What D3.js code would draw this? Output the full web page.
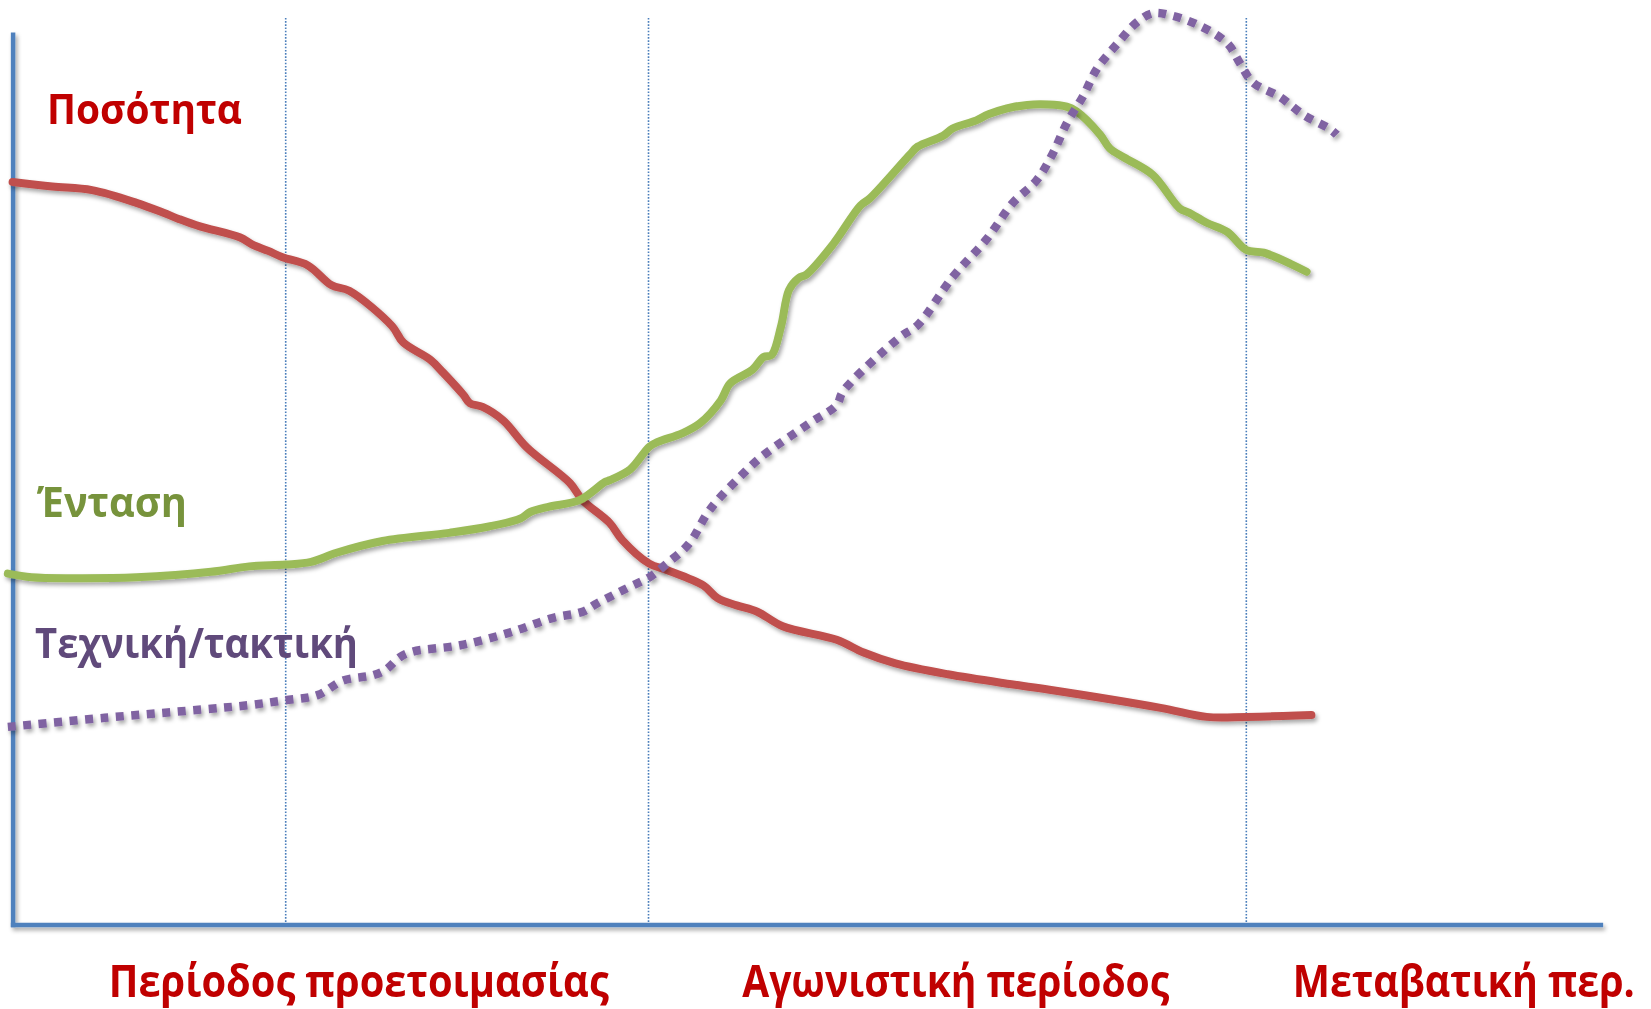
<!DOCTYPE html>
<html lang="el">
<head>
<meta charset="utf-8">
<script src="https://cdn.jsdelivr.net/npm/d3@7"></script>
<style>
  html, body { margin: 0; padding: 0; background: #ffffff; }
  svg { display: block; }
  text { font-family: "Open Sans", "Noto Sans", sans-serif; font-weight: 700; }
</style>
</head>
<body>
<svg id="chart" width="1651" height="1009"></svg>
<script>
// Training load over the season, relative level (0–100) against season time (0–100).

// Ποσότητα (volume)
const volumeX = [0.0, 2.5, 5.0, 7.8, 9.5, 10.5, 11.8, 14.3, 15.1, 16.1, 17.0, 18.6, 20.1, 21.2, 23.9, 24.6,
  26.3, 27.1, 28.4, 28.8, 29.6, 30.9, 32.4, 35.1, 35.9, 37.6, 38.4, 40.1, 41.2, 43.5, 44.4, 45.6,
  46.9, 48.5, 51.9, 53.6, 55.6, 58.9, 62.9, 65.3, 72.3, 75.2, 77.7, 81.8];
const volumeY = [81.9, 81.4, 81.0, 79.6, 78.5, 77.8, 77.0, 75.8, 75.0, 74.3, 73.6, 72.7, 70.5, 69.9, 66.0, 64.2,
  62.3, 60.9, 58.4, 57.5, 57.1, 55.6, 52.6, 48.7, 46.8, 44.3, 42.4, 39.8, 39.1, 37.4, 36.0, 35.2,
  34.5, 32.9, 31.4, 30.0, 28.8, 27.6, 26.5, 25.9, 23.9, 22.9, 22.9, 23.1];

// Ένταση (intensity)
const intensityX = [-0.3, 1.2, 3.8, 7.8, 12.5, 14.9, 17.2, 18.8, 20.4, 23.3, 27.5, 30.0, 32.0, 32.6, 33.8, 35.7,
  37.3, 37.6, 38.9, 40.1, 40.6, 42.2, 43.3, 44.6, 45.2, 46.6, 47.3, 47.8, 48.4, 48.9, 49.5, 50.0,
  51.7, 53.4, 54.0, 56.5, 57.0, 58.6, 59.2, 60.7, 61.5, 63.9, 66.4, 67.0, 68.5, 69.1, 70.0, 71.8,
  73.5, 74.1, 75.2, 76.5, 77.7, 78.8, 81.5];
const intensityY = [38.7, 38.3, 38.2, 38.3, 38.9, 39.5, 39.7, 40.0, 41.0, 42.3, 43.2, 43.9, 44.8, 45.5, 46.1, 46.8,
  48.8, 49.0, 50.2, 52.7, 53.2, 54.2, 55.3, 57.8, 59.7, 61.2, 62.6, 62.8, 66.0, 70.0, 71.3, 71.7,
  75.1, 79.3, 80.1, 84.9, 85.8, 87.0, 87.8, 88.7, 89.4, 90.4, 90.2, 89.7, 87.1, 85.6, 84.6, 82.7,
  79.0, 78.5, 77.4, 76.4, 74.4, 74.1, 72.0];

// Τεχνική/τακτική (technique / tactics)
const techniqueX = [-0.3, 5.8, 12.5, 14.9, 17.0, 19.2, 20.8, 22.7, 23.5, 24.4, 25.2, 28.2, 31.3, 34.0, 35.9, 36.8,
  38.7, 40.1, 41.2, 42.6, 43.7, 44.4, 45.6, 47.1, 50.2, 51.9, 52.3, 55.9, 57.0, 59.2, 61.3, 63.0,
  64.5, 65.5, 66.4, 67.4, 68.3, 69.6, 70.8, 71.8, 72.9, 74.8, 76.5, 77.3, 78.1, 79.8, 81.3, 83.0, 83.4];
const techniqueY = [21.8, 22.8, 23.8, 24.2, 24.7, 25.3, 26.9, 27.5, 28.1, 29.5, 30.1, 30.8, 32.2, 33.8, 34.5, 35.4,
  37.1, 38.3, 39.8, 42.0, 45.2, 46.8, 49.0, 51.5, 55.3, 57.3, 58.8, 64.8, 66.1, 71.4, 75.5, 79.6,
  82.1, 85.0, 88.4, 91.3, 94.4, 97.2, 99.5, 100.5, 100.3, 99.1, 97.2, 95.0, 92.9, 91.3, 89.3, 87.7, 87.1];

// Season phase boundaries and names
const phaseBounds = [17.2, 40.05, 77.7];
const phaseNames = ["Περίοδος προετοιμασίας", "Αγωνιστική περίοδος", "Μεταβατική περ."];
const phaseCenters = [21.8, 59.4, 91.4];
const seriesNames = ["Ποσότητα", "Ένταση", "Τεχνική/τακτική"];

const svg = d3.select("#chart");

const x = d3.scaleLinear().domain([0, 100]).range([12.6, 1600.4]);
const y = d3.scaleLinear().domain([0, 100]).range([924.5, 17.9]);

// soft drop shadow used on the lines and axes
const defs = svg.append("defs");
const shadow = defs.append("filter").attr("id", "shadow")
  .attr("x", "-5%").attr("y", "-5%").attr("width", "110%").attr("height", "110%");
shadow.append("feDropShadow")
  .attr("dx", 2).attr("dy", 3).attr("stdDeviation", 2)
  .attr("flood-color", "#000").attr("flood-opacity", 0.35);

// phase separators
svg.append("g").selectAll("line")
  .data(phaseBounds)
  .join("line")
  .attr("x1", d => x(d)).attr("x2", d => x(d))
  .attr("y1", y(100)).attr("y2", y(0))
  .attr("stroke", "#4A7EBB")
  .attr("stroke-width", 1.6)
  .attr("stroke-dasharray", "1.6,1.6");

// axes (no ticks)
const yAxisScale = y.copy().domain([0, 98.2]).range([y(0), y(98.2)]);
const axisG = svg.append("g").attr("filter", "url(#shadow)");
axisG.append("g")
  .attr("transform", `translate(0,${y(0)})`)
  .call(d3.axisBottom(x).tickValues([]).tickSizeOuter(0));
axisG.append("g")
  .attr("transform", `translate(${x(0)},0)`)
  .call(d3.axisLeft(yAxisScale).tickValues([]).tickSizeOuter(0));
axisG.selectAll(".domain")
  .attr("stroke", "#4F81BD")
  .attr("stroke-width", 4.5)
  .attr("stroke-linecap", "square");

const line = d3.line()
  .x(d => x(d[0]))
  .y(d => y(d[1]))
  .curve(d3.curveCatmullRom.alpha(0.5));

const series = [
  { xs: volumeX, ys: volumeY, color: "#C0504D", width: 8, dash: null },
  { xs: intensityX, ys: intensityY, color: "#9BBB59", width: 8, dash: null },
  { xs: techniqueX, ys: techniqueY, color: "#8064A2", width: 8.5, dash: "8,7.5" }
];

svg.append("g").selectAll("path")
  .data(series)
  .join("path")
  .attr("d", s => line(d3.zip(s.xs, s.ys)))
  .attr("fill", "none")
  .attr("stroke", s => s.color)
  .attr("stroke-width", s => s.width)
  .attr("stroke-dasharray", s => s.dash)
  .attr("stroke-linejoin", "round")
  .attr("stroke-linecap", s => s.dash ? "butt" : "round")
  .attr("filter", "url(#shadow)");

// series labels
const seriesLabels = [
  { text: seriesNames[0], px: 47, py: 124, len: 195, color: "#C00000" },
  { text: seriesNames[1], px: 37, py: 517, len: 150, color: "#77933C" },
  { text: seriesNames[2], px: 35, py: 658, len: 323, color: "#604A7B" }
];
svg.append("g").selectAll("text")
  .data(seriesLabels)
  .join("text")
  .attr("x", d => d.px)
  .attr("y", d => d.py)
  .attr("font-size", 42)
  .attr("textLength", d => d.len)
  .attr("lengthAdjust", "spacingAndGlyphs")
  .attr("fill", d => d.color)
  .text(d => d.text);

// phase names under the time axis
const phaseWidths = [500, 427, 342];
svg.append("g").selectAll("text")
  .data(phaseNames)
  .join("text")
  .attr("x", (d, i) => x(phaseCenters[i]) - phaseWidths[i] / 2)
  .attr("y", 997)
  .attr("font-size", 44)
  .attr("textLength", (d, i) => phaseWidths[i])
  .attr("lengthAdjust", "spacingAndGlyphs")
  .attr("fill", "#C00000")
  .text(d => d);
</script>
</body>
</html>
